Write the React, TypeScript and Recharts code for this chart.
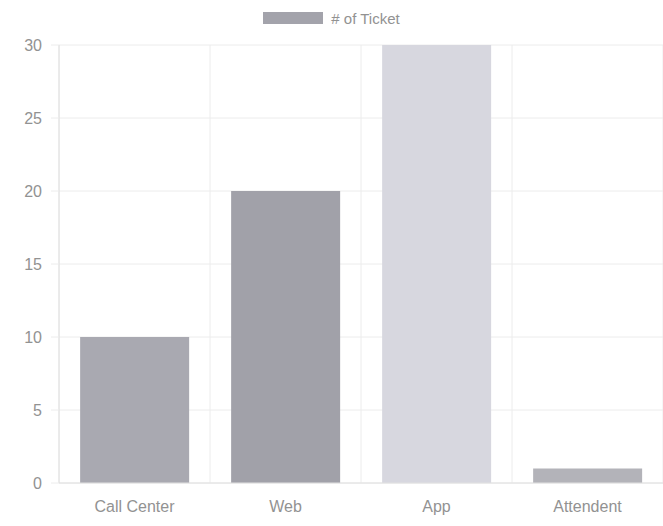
import React from 'react';
import { BarChart, Bar, XAxis, YAxis, CartesianGrid, Cell, Legend } from 'recharts';

const categories = ['Call Center', 'Web', 'App', 'Attendent'];
const tickets = [10, 20, 30, 1];
const barColors = ['#a9a9b1', '#a1a1a9', '#d7d7df', '#b3b3b9'];
const yTicks = [0, 5, 10, 15, 20, 25, 30];
const seriesName = '# of Ticket';
const legendColor = '#a3a3ab';

const data = categories.map((c, i) => ({ name: c, value: tickets[i] }));

const font = '"Liberation Sans", Arial, sans-serif';
const textColor = '#929292';

const LegendContent = () => (
  <div style={{ display: 'flex', justifyContent: 'center', alignItems: 'center', height: 14, fontFamily: font, fontSize: 15, color: textColor }}>
    <span style={{ display: 'inline-block', width: 60, height: 12, background: legendColor, marginRight: 8 }} />
    <span>{seriesName}</span>
  </div>
);

export default function App() {
  return (
    <div style={{ position: 'absolute', left: 0, top: 0, background: '#fff' }}>
      <BarChart width={663} height={526} data={data} margin={{ top: 31, right: 0, left: 0, bottom: 0 }} barCategoryGap="14%">
        <CartesianGrid
          stroke="#ececec"
          verticalCoordinatesGenerator={({ offset }: any) =>
            [0, 1, 2, 3, 4].map((i) => offset.left + (i * offset.width) / 4)
          }
        />
        <XAxis
          dataKey="name"
          height={43}
          tickSize={0}
          tickMargin={18}
          axisLine={{ stroke: '#e0e0e0' }}
          tick={{ fill: textColor, fontSize: 16, fontFamily: font }}
        />
        <YAxis
          width={59}
          domain={[0, 30]}
          ticks={yTicks}
          tickSize={8}
          tickMargin={9}
          tickLine={{ stroke: '#ececec' }}
          axisLine={{ stroke: '#e0e0e0' }}
          tick={{ fill: textColor, fontSize: 16, fontFamily: font }}
        />
        <Legend verticalAlign="top" align="center" content={<LegendContent />} wrapperStyle={{ top: 11, left: 0, width: 663 }} />
        <Bar dataKey="value" name={seriesName} isAnimationActive={false}>
          {data.map((d, i) => (
            <Cell key={d.name} fill={barColors[i]} />
          ))}
        </Bar>
      </BarChart>
    </div>
  );
}
